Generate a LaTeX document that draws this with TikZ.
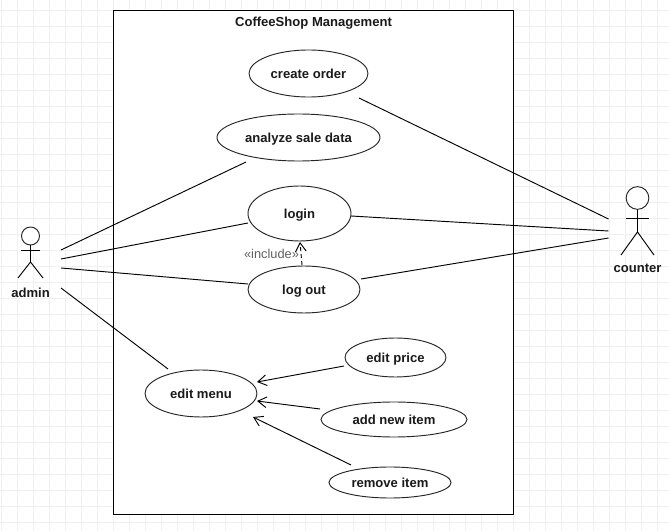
\documentclass[tikz,border=0pt]{standalone}
\usepackage{fontspec}
\setmainfont{Liberation Sans}
\usetikzlibrary{shapes.geometric,arrows.meta,calc}
\definecolor{gridc}{HTML}{F0F0F0}
\definecolor{inkc}{HTML}{1A1A1A}
\tikzset{
  x=0.75pt,y=-0.75pt,
  pxline/.style={line width=0.7pt,draw=black},
  boldtext/.style={inner sep=0pt,text=inkc,text height=8pt,text depth=1.2pt,font=\fontsize{9.8pt}{11pt}\selectfont\bfseries},
  usecase/.style 2 args={boldtext,ellipse,draw=black!85,line width=0.7pt,fill=white,minimum width=#1*0.75pt,minimum height=#2*0.75pt},
  actorlabel/.style={boldtext},
  openarrow/.style={pxline,-{Straight Barb[length=6.5pt,width=8pt]}},
}
\begin{document}
\begin{tikzpicture}
\useasboundingbox (0,0) rectangle (669,531);
\fill[white] (0,0) rectangle (669,531);
\foreach \k in {0,...,41} {\draw[gridc,line width=0.75pt] ({1.5+16*\k},0) -- ({1.5+16*\k},531);}
\foreach \k in {0,...,32} {\draw[gridc,line width=0.75pt] (0,{10.5+16*\k}) -- (669,{10.5+16*\k});}
\node[draw=black,line width=0.7pt,fill=white,inner sep=0pt,minimum width=300pt,minimum height=378pt] (system) at (313.5,262) {};
\node[actorlabel] (title) at (313.5,22) {CoffeeShop Management};

\node[usecase={119}{47}] (create) at (308.5,73.5) {create order};
\node[usecase={163}{47}] (analyze) at (298.5,137.5) {analyze sale data};
\node[usecase={103}{55}] (login) at (299.5,213.5) {login};
\node[usecase={112}{47}] (logout) at (304,289.5) {log out};
\node[usecase={112}{47}] (editmenu) at (201,393.5) {edit menu};
\node[usecase={101}{39}] (editprice) at (395.5,357.5) {edit price};
\node[usecase={146}{35}] (additem) at (394,419.5) {add new item};
\node[usecase={122}{31}] (removeitem) at (390,482.5) {remove item};

% admin actor
\node[circle,draw=black!85,line width=0.7pt,inner sep=0pt,minimum size=13.5pt,fill=white] (adminhead) at (30.5,236) {};
\coordinate (adminhip) at (30.5,262);
\coordinate (adminneck) at (30.5,250);
\draw[pxline] (adminhead.south) -- (adminhip);
\draw[pxline] ($(adminneck)+(-9.5,0)$) -- ($(adminneck)+(9.5,0)$);
\draw[pxline] ($(adminhip)+(-12.5,16)$) -- (adminhip) -- ($(adminhip)+(12.5,16)$);
\node[actorlabel] (adminlabel) at (30.5,293) {admin};
\coordinate (adminport) at (61,268);

% counter actor
\node[circle,draw=black!85,line width=0.7pt,inner sep=0pt,minimum size=17pt,fill=white] (counterhead) at (637.5,198) {};
\coordinate (counterhip) at (637.5,232);
\coordinate (counterneck) at (637.5,218);
\draw[pxline] (counterhead.south) -- (counterhip);
\draw[pxline] ($(counterneck)+(-11.5,0)$) -- ($(counterneck)+(11.5,0)$);
\draw[pxline] ($(counterhip)+(-16.5,23)$) -- (counterhip) -- ($(counterhip)+(16.5,23)$);
\node[actorlabel] (counterlabel) at (637.5,268) {counter};
\coordinate (counterport) at (608.5,231);

% associations
\draw[pxline] ($(adminport)+(0,-18)$) -- ($(analyze)+(-52.5,24.5)$);
\draw[pxline] ($(adminport)+(0,-9)$) -- ($(login)+(-51.5,9.5)$);
\draw[pxline] (adminport) -- ($(logout)+(-56,-5.5)$);
\draw[pxline] ($(adminport)+(0,20)$) -- ($(editmenu)+(-33,-24.5)$);
\draw[pxline] ($(create)+(50.5,24.5)$) -- ($(counterport)+(0,-12)$);
\draw[pxline] ($(login)+(51.5,2.5)$) -- (counterport);
\draw[pxline] ($(logout)+(57,-10.5)$) -- ($(counterport)+(0,7)$);

% arrows
\draw[openarrow] ($(editprice)+(-51.5,8.5)$) -- ($(editmenu)+(56,-11.5)$);
\draw[openarrow] ($(additem)+(-74,-10.5)$) -- ($(editmenu)+(56,7.5)$);
\draw[openarrow] ($(removeitem)+(-39,-17.5)$) -- ($(editmenu)+(52,23.5)$);
\draw[openarrow,dash pattern=on 3pt off 2.25pt] ($(logout)+(-2,-24.5)$) -- ($(login)+(0.5,28.5)$);
\node[inner sep=0pt,text=black!62,font=\fontsize{9.6pt}{11pt}\selectfont] (includelabel) at (271.5,254) {«include»};
\end{tikzpicture}
\end{document}
